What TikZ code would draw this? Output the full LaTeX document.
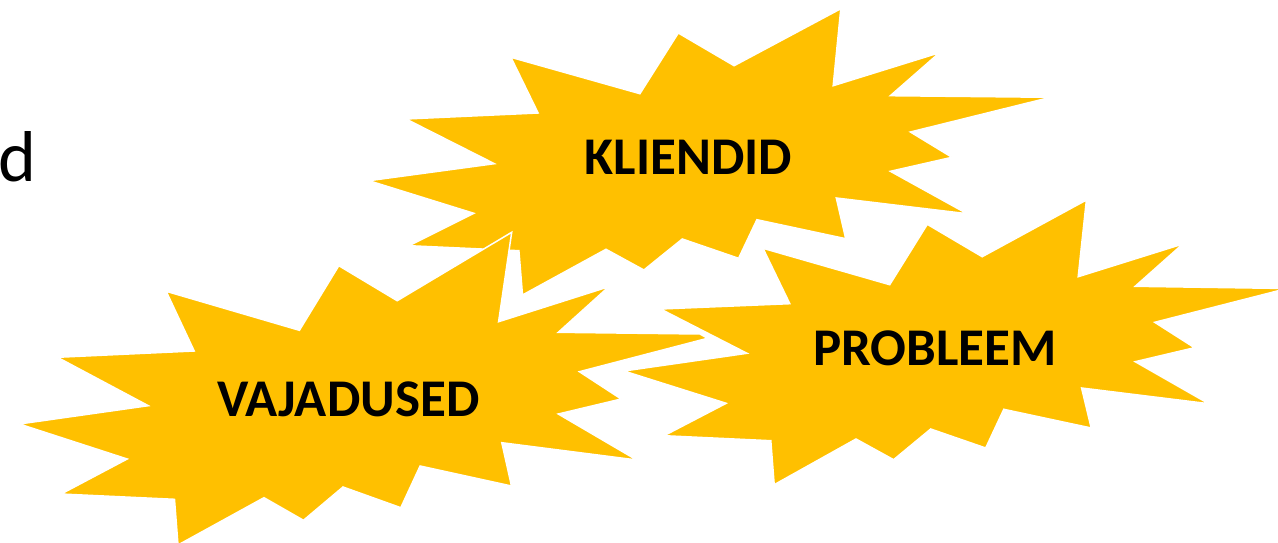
\documentclass[tikz,border=0pt]{standalone}
\usepackage{fontspec}
\setmainfont{Carlito}
\definecolor{gold}{HTML}{FFC000}
\tikzset{
  burst/.style={fill=gold,draw=white,line width=1.5pt,line join=miter},
  lbl/.style={inner sep=0pt,anchor=base,font=\fontsize{53}{60}\selectfont\bfseries,text=black},
}
\begin{document}
\begin{tikzpicture}[x=1pt,y=-1pt]
\useasboundingbox[fill=white] (0,0) rectangle (1278,543);
\begin{scope}
\clip (0,0) rectangle (1278,543);
% KLIENDID burst
\path[burst] (510.9,57.3) -- (639.9,93.7) -- (678.3,33) -- (734.1,65.7) -- (840.8,8.7) -- (833.2,85.7) -- (939.5,52.7) -- (890.4,95.7) -- (1050.6,97.3) -- (910.4,132) -- (952,157.3) -- (890.4,171.3) -- (967.1,213.7) -- (836.3,198) -- (845.7,238.7) -- (756.9,219.7) -- (738.6,258.3) -- (682.3,239) -- (643.9,270) -- (606,249.3) -- (522.5,295) -- (518.9,250.7) -- (409.1,245.7) -- (473.8,213.3) -- (368.9,180.7) -- (494.4,163.7) -- (406,119) -- (538.1,113) -- cycle;
% PROBLEEM burst
\path[burst] (763,248.3) -- (889.7,284.7) -- (927.3,224.3) -- (982.2,256.7) -- (1086.4,200) -- (1078.2,276.7) -- (1182.8,244) -- (1135.2,286.3) -- (1287,288.5) -- (1154.7,322.3) -- (1194.5,347.7) -- (1135.2,361.7) -- (1208.7,403.7) -- (1081.6,388) -- (1091.2,428) -- (1003.8,409.3) -- (985.7,448) -- (930.7,429) -- (893.6,459.7) -- (856,439) -- (774.2,484.7) -- (770.8,440.7) -- (664,435.7) -- (726.2,403.3) -- (623.8,371) -- (747,353.3) -- (660.5,309) -- (789.8,303.7) -- cycle;
% VAJADUSED burst
\path[burst] (166.2,291.3) -- (299.4,330.3) -- (338.8,265.7) -- (397.2,300.7) -- (511.7,232.3) -- (498.6,321.7) -- (608.8,286.7) -- (558.3,332.3) -- (700,334) -- (707.5,338.3) -- (579.4,371.7) -- (621.2,399) -- (558.3,414) -- (636.8,460) -- (501.8,442.7) -- (511.5,486) -- (420.1,466) -- (400.8,507.7) -- (343,487) -- (303.5,520.3) -- (264,497.7) -- (178,545) -- (174.5,499.3) -- (61.1,494) -- (127.2,459) -- (19.3,424) -- (148.3,405.7) -- (57.4,357.3) -- (194.2,351) -- cycle;
\end{scope}
\node[lbl] (kliendid) at (688.6,174.3) {KLIENDID};
\node[lbl] (probleem) at (935,365.7) {PROBLEEM};
\node[lbl] (vajadused) at (348.3,416.7) {VAJADUSED};
\node[inner sep=0pt,anchor=base east,font=\fontsize{72}{80}\selectfont] (dfrag) at (37,181) {d};
\end{tikzpicture}
\end{document}
